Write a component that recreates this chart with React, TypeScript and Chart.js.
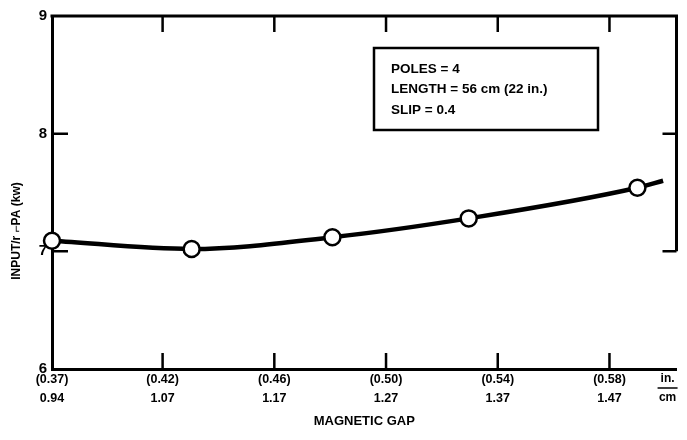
import React, { useEffect, useRef } from 'react';
import { Chart, registerables } from 'chart.js';

Chart.register(...registerables);

// Measured points: magnetic gap (cm, as placed on the drawn axis) vs input per phase (kW)
const gapCm = [0.971, 1.096, 1.222, 1.344, 1.495];
const inputKw = [7.09, 7.02, 7.12, 7.28, 7.54];
// Faired curve continues a little past the last point
const curveEndCm = [1.518];
const curveEndKw = [7.6];

// Axis ticks
const xTickValues = [1.07, 1.17, 1.27, 1.37, 1.47];
const xInchLabels = ['(0.42)', '(0.46)', '(0.50)', '(0.54)', '(0.58)'];
const xCmLabels = ['1.07', '1.17', '1.27', '1.37', '1.47'];
const xOriginLabels = ['(0.37)', '0.94'];
const xUnitLabels = ['in.', 'cm'];
const xUnitPos = 1.522;
const xMin = 0.971;
const xMax = 1.53;
const yMin = 6;
const yMax = 9;
const yInnerTicks = [7, 8];

const xTitle = 'MAGNETIC GAP';
const yTitle = 'INPUT/r \u2310PA (kw)';
const noteLines = ['POLES = 4', 'LENGTH = 56 cm (22 in.)', 'SLIP = 0.4'];

const FONT = "'Liberation Sans', 'DejaVu Sans', Arial, sans-serif";

const decorPlugin = {
  id: 'decor',
  afterDraw(chart: any) {
    const { ctx, chartArea: a, scales } = chart;
    const x = scales.x;
    const y = scales.y;
    ctx.save();
    ctx.strokeStyle = '#000';
    ctx.fillStyle = '#000';
    ctx.lineCap = 'butt';

    // top border and partial right border
    ctx.lineWidth = 3;
    ctx.beginPath();
    ctx.moveTo(a.left - 1.5, a.top);
    ctx.lineTo(a.right, a.top);
    ctx.moveTo(a.right, a.top - 1.5);
    ctx.lineTo(a.right, y.getPixelForValue(7));
    ctx.stroke();

    // inward tick marks
    ctx.lineWidth = 2.5;
    ctx.beginPath();
    xTickValues.forEach((v) => {
      const px = x.getPixelForValue(v);
      ctx.moveTo(px, a.bottom);
      ctx.lineTo(px, a.bottom - 16);
      ctx.moveTo(px, a.top);
      ctx.lineTo(px, a.top + 16);
    });
    yInnerTicks.forEach((v) => {
      const py = y.getPixelForValue(v);
      ctx.moveTo(a.left, py);
      ctx.lineTo(a.left + 16, py);
      ctx.moveTo(a.right, py);
      ctx.lineTo(a.right - 14, py);
    });
    ctx.stroke();

    // unit labels in./cm
    const ux = x.getPixelForValue(xUnitPos);
    ctx.font = `bold 12px ${FONT}`;
    ctx.textAlign = 'center';
    ctx.textBaseline = 'middle';
    ctx.fillText(xUnitLabels[0], ux, a.bottom + 10);
    ctx.fillText(xUnitLabels[1], ux, a.bottom + 29);
    ctx.lineWidth = 1.5;
    ctx.beginPath();
    ctx.moveTo(ux - 10, a.bottom + 19);
    ctx.lineTo(ux + 10, a.bottom + 19);
    ctx.stroke();

    // y axis title
    ctx.save();
    ctx.translate(17, 231);
    ctx.rotate(-Math.PI / 2);
    ctx.font = `bold 12px ${FONT}`;
    ctx.textAlign = 'center';
    ctx.textBaseline = 'middle';
    ctx.fillText(yTitle, 0, 0);
    ctx.restore();

    // note box
    ctx.lineWidth = 2.5;
    ctx.strokeRect(374, 48, 224, 82);
    ctx.font = `bold 13.5px ${FONT}`;
    ctx.textAlign = 'left';
    ctx.textBaseline = 'middle';
    noteLines.forEach((t, i) => ctx.fillText(t, 391, 69 + i * 20.5));

    ctx.restore();
  },
};

export default function App() {
  const ref = useRef<HTMLCanvasElement | null>(null);

  useEffect(() => {
    document.body.style.margin = '0';
    const canvas = ref.current;
    if (!canvas) return;

    const markerData = gapCm.map((g, i) => ({ x: g, y: inputKw[i] }));
    const curveData = [
      ...gapCm.map((g, i) => ({ x: g, y: inputKw[i] })),
      ...curveEndCm.map((g, i) => ({ x: g, y: curveEndKw[i] })),
    ];

    const chart = new Chart(canvas, {
      type: 'line',
      data: {
        datasets: [
          {
            type: 'scatter',
            data: markerData,
            pointRadius: 8,
            pointHoverRadius: 8,
            pointBackgroundColor: '#fff',
            pointBorderColor: '#000',
            pointBorderWidth: 2.5,
            showLine: false,
            clip: false,
          } as any,
          {
            type: 'line',
            data: curveData,
            borderColor: '#000',
            borderWidth: 4.5,
            pointRadius: 0,
            cubicInterpolationMode: 'monotone',
            fill: false,
            clip: false,
          } as any,
        ],
      },
      options: {
        animation: false,
        responsive: true,
        maintainAspectRatio: false,
        layout: { padding: { top: 16, right: 1, bottom: 0, left: 0 } },
        plugins: {
          legend: { display: false },
          tooltip: { enabled: false },
        },
        scales: {
          x: {
            type: 'linear',
            min: xMin,
            max: xMax,
            grid: { display: false, drawTicks: false },
            border: { display: true, color: '#000', width: 3 },
            afterBuildTicks: (scale: any) => {
              scale.ticks = [{ value: xMin }, ...xTickValues.map((v) => ({ value: v }))];
            },
            afterFit: (scale: any) => {
              scale.height = 71;
            },
            ticks: {
              autoSkip: false,
              maxRotation: 0,
              padding: 1,
              color: '#000',
              font: { family: FONT, size: 12.5, weight: 'bold', lineHeight: '19px' } as any,
              callback: (value: any) => {
                const v = Number(value);
                if (Math.abs(v - xMin) < 1e-6) return xOriginLabels;
                const i = xTickValues.findIndex((t) => Math.abs(t - v) < 1e-6);
                return i >= 0 ? [xInchLabels[i], xCmLabels[i]] : '';
              },
            },
            title: {
              display: true,
              text: xTitle,
              color: '#000',
              font: { family: FONT, size: 13, weight: 'bold' },
              padding: { top: 0, bottom: 11 },
            },
          },
          y: {
            type: 'linear',
            min: yMin,
            max: yMax,
            grid: { display: false, drawTicks: false },
            border: { display: true, color: '#000', width: 3 },
            afterFit: (scale: any) => {
              scale.width = 52;
            },
            ticks: {
              stepSize: 1,
              padding: 5,
              color: '#000',
              font: { family: FONT, size: 15, weight: 'bold' },
            },
          },
        },
      },
      plugins: [decorPlugin],
    });

    return () => chart.destroy();
  }, []);

  return (
    <div style={{ position: 'relative', width: '687px', height: '440px', background: '#fff' }}>
      <canvas ref={ref} />
    </div>
  );
}
